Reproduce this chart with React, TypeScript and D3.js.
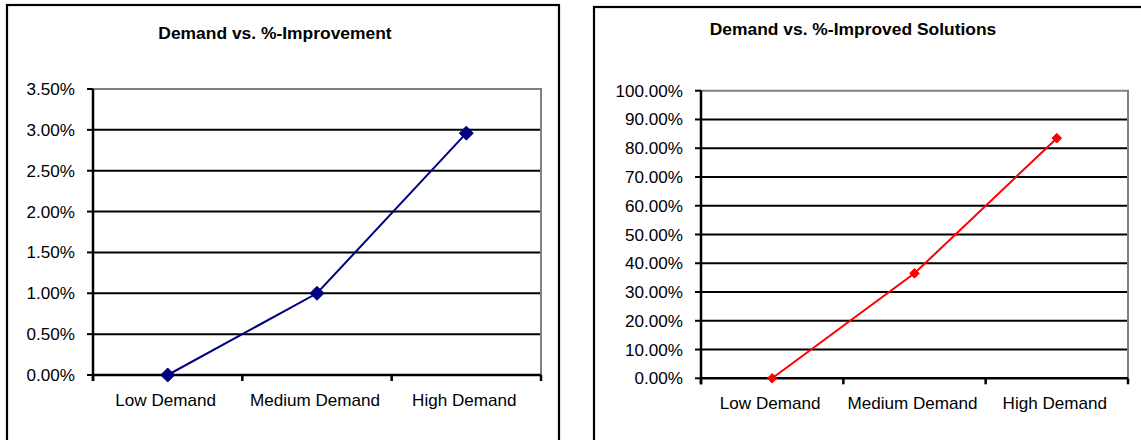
import React from "react";
import * as d3 from "d3";

// Categories shared by both charts
const categories: string[] = ["Low Demand", "Medium Demand", "High Demand"];

// Average improvement per demand level
const improvementValues: number[] = [0.0, 0.01, 0.0296];
const improvementTicks: number[] = [0, 0.005, 0.01, 0.015, 0.02, 0.025, 0.03, 0.035];

// Share of instances with an improved solution per demand level
const improvedSolutionValues: number[] = [0.0, 0.365, 0.835];
const improvedSolutionTicks: number[] = [0, 0.1, 0.2, 0.3, 0.4, 0.5, 0.6, 0.7, 0.8, 0.9, 1.0];

const FONT = "'Liberation Sans', Arial, Helvetica, sans-serif";
const LABEL_SIZE = 16.6;
const LABEL_STRETCH = 1.03;
const TITLE_SIZE = 16;
const TITLE_STRETCH = 1.09;

type PanelProps = {
  title: string;
  titleX: number;
  titleY: number;
  frame: { x: number; y: number; w: number; h: number };
  plot: { left: number; right: number; top: number; bottom: number };
  values: number[];
  ticks: number[];
  color: string;
  markerSize: number;
};

function diamond(cx: number, cy: number, r: number): string {
  return `M${cx},${cy - r}L${cx + r},${cy}L${cx},${cy + r}L${cx - r},${cy}Z`;
}

function Panel(p: PanelProps) {
  const { plot } = p;
  const x = d3.scaleBand<string>().domain(categories).range([plot.left, plot.right]).padding(0);
  const y = d3
    .scaleLinear()
    .domain([0, p.ticks[p.ticks.length - 1]])
    .range([plot.bottom, plot.top]);
  const fmt = d3.format(".2%");
  const cx = (c: string) => (x(c) as number) + x.bandwidth() / 2;

  const pts: [number, number][] = categories.map((c, i) => [cx(c), y(p.values[i])]);
  const line = d3.line<[number, number]>()(pts) as string;

  const boundaries = [...categories.map((c) => x(c) as number), plot.right];

  return (
    <g>
      {/* chart frame */}
      <rect
        x={p.frame.x}
        y={p.frame.y}
        width={p.frame.w}
        height={p.frame.h}
        fill="#ffffff"
        stroke="#000000"
        strokeWidth={2.2}
      />
      {/* title */}
      <text
        transform={`translate(${p.titleX},${p.titleY}) scale(${TITLE_STRETCH},1)`}
        textAnchor="middle"
        fontFamily={FONT}
        fontWeight="bold"
        fontSize={TITLE_SIZE}
        fill="#000"
      >
        {p.title}
      </text>

      {/* horizontal gridlines */}
      {p.ticks.slice(1, -1).map((t) => (
        <line
          key={`g${t}`}
          x1={plot.left}
          x2={plot.right}
          y1={y(t)}
          y2={y(t)}
          stroke="#000"
          strokeWidth={2}
        />
      ))}
      {/* plot area border: top and right */}
      <polyline
        points={`${plot.left},${plot.top} ${plot.right},${plot.top} ${plot.right},${plot.bottom}`}
        fill="none"
        stroke="#808080"
        strokeWidth={2}
      />

      {/* y axis ticks and labels */}
      {p.ticks.map((t) => (
        <g key={`y${t}`}>
          <line x1={plot.left - 6} x2={plot.left} y1={y(t)} y2={y(t)} stroke="#000" strokeWidth={2} />
          <text
            transform={`translate(${plot.left - 18},${y(t) + 6}) scale(${LABEL_STRETCH},1)`}
            textAnchor="end"
            fontFamily={FONT}
            fontSize={LABEL_SIZE}
            fill="#000"
          >
            {fmt(t)}
          </text>
        </g>
      ))}

      {/* x axis ticks */}
      {boundaries.map((b, i) => (
        <line key={`xt${i}`} x1={b} x2={b} y1={plot.bottom} y2={plot.bottom + 6} stroke="#000" strokeWidth={2.5} />
      ))}

      {/* axes */}
      <line x1={plot.left} x2={plot.left} y1={plot.top} y2={plot.bottom + 6} stroke="#000" strokeWidth={2.5} />
      <line x1={plot.left} x2={plot.right} y1={plot.bottom} y2={plot.bottom} stroke="#000" strokeWidth={2.5} />

      {/* category labels */}
      {categories.map((c) => (
        <text
          key={`xl${c}`}
          transform={`translate(${cx(c) - 2},${plot.bottom + 31}) scale(${LABEL_STRETCH},1)`}
          textAnchor="middle"
          fontFamily={FONT}
          fontSize={LABEL_SIZE}
          fill="#000"
        >
          {c}
        </text>
      ))}

      {/* series */}
      <path d={line} fill="none" stroke={p.color} strokeWidth={2} />
      {pts.map(([px, py], i) => (
        <path key={`m${i}`} d={diamond(px, py, p.markerSize)} fill={p.color} stroke={p.color} strokeWidth={1} />
      ))}
    </g>
  );
}

export default function App() {
  return (
    <svg
      width={1141}
      height={440}
      style={{ position: "absolute", left: 0, top: 0, display: "block", background: "#fff" }}
    >
      <rect x={0} y={0} width={1141} height={440} fill="#fff" />
      <Panel
        title="Demand vs. %-Improvement"
        titleX={275}
        titleY={39}
        frame={{ x: 7, y: 5, w: 552, h: 460 }}
        plot={{ left: 93, right: 541, top: 89, bottom: 375 }}
        values={improvementValues}
        ticks={improvementTicks}
        color="#000080"
        markerSize={7}
      />
      <Panel
        title="Demand vs. %-Improved Solutions"
        titleX={853}
        titleY={35}
        frame={{ x: 594, y: 7, w: 570, h: 460 }}
        plot={{ left: 701, right: 1128, top: 90.7, bottom: 378.3 }}
        values={improvedSolutionValues}
        ticks={improvedSolutionTicks}
        color="#ff0000"
        markerSize={4.8}
      />
    </svg>
  );
}
